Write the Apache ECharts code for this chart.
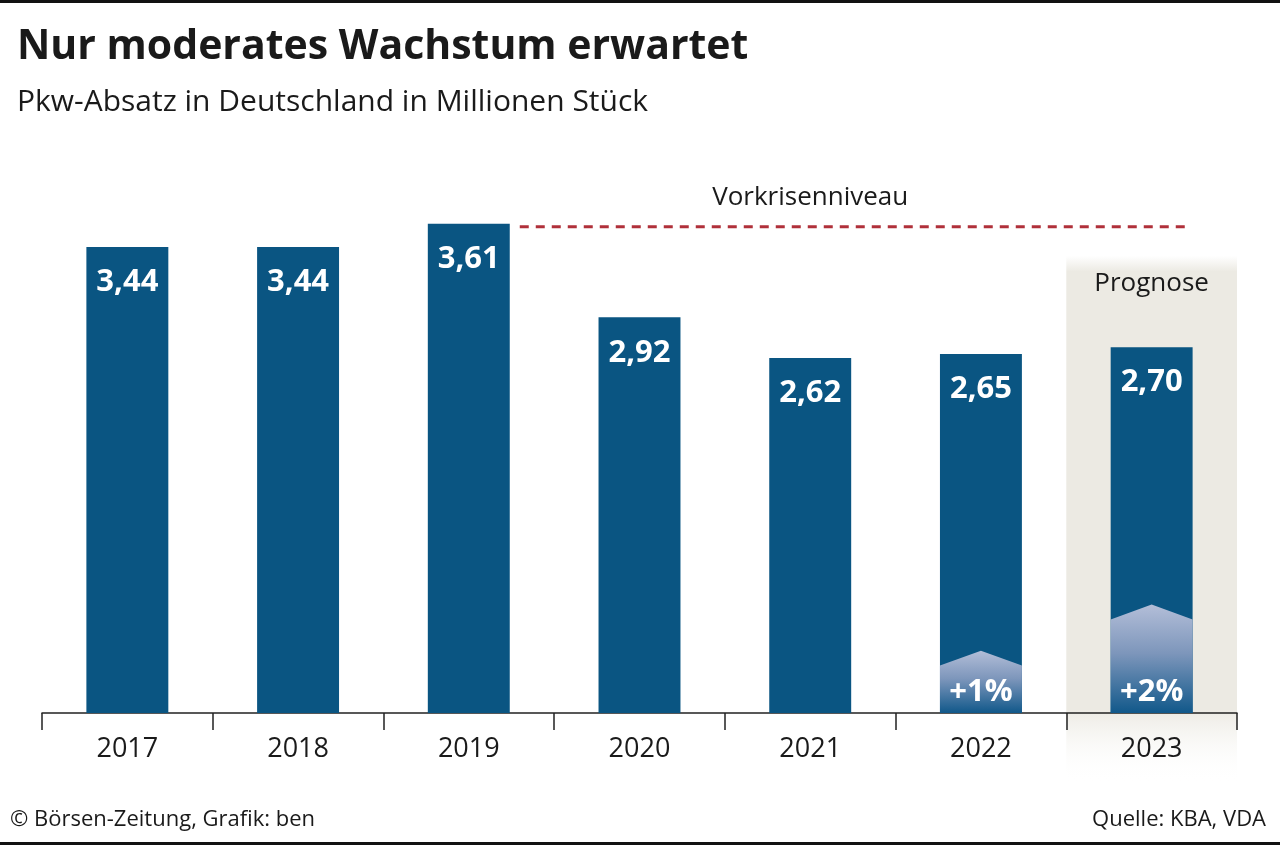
<!DOCTYPE html>
<html><head><meta charset="utf-8">
<script src="https://cdn.jsdelivr.net/npm/echarts@6/dist/echarts.min.js"></script>
<style>html,body{margin:0;padding:0;background:#fff}#c{width:1280px;height:845px}</style>
</head><body><div id="c"></div>
<script>
const categories = ['2017','2018','2019','2020','2021','2022','2023'];
const values = [3.44, 3.44, 3.61, 2.92, 2.62, 2.65, 2.70];
const valueLabels = ['3,44','3,44','3,61','2,92','2,62','2,65','2,70'];
// growth markers: [category index, shoulder height, peak height, label]
const growthIndex = [5, 6];
const growthShoulder = [0.35, 0.69];
const growthPeak = [0.46, 0.80];
const growthLabels = ['+1%', '+2%'];
const preCrisisIndex = 2;
const forecastIndex = 6;
const forecastShadeTop = 3.33;

const FONT = '"Open Sans", sans-serif';
const BLUE = '#0a5582';

const chart = echarts.init(document.getElementById('c'), null, {renderer:'canvas'});
const growthData = growthIndex.map((c, i) => [c, growthShoulder[i], growthPeak[i], growthLabels[i]]);

chart.setOption({
  animation: false,
  backgroundColor: '#fff',
  title: [
    {text: 'Nur moderates Wachstum erwartet', left: 12, top: 22,
     textStyle: {fontFamily: FONT, fontSize: 41, fontWeight: 'bold', color: '#1a1a1a'}},
    {text: 'Pkw-Absatz in Deutschland in Millionen Stück', left: 12, top: 82,
     textStyle: {fontFamily: FONT, fontSize: 30, fontWeight: 'normal', color: '#1a1a1a'}}
  ],
  grid: {left: 42, right: 43, top: 171, bottom: 132, containLabel: false},
  xAxis: {
    type: 'category', data: categories, boundaryGap: true,
    axisLine: {lineStyle: {color: '#222', width: 1.5}},
    axisTick: {show: true, length: 17, lineStyle: {color: '#222', width: 1.5}},
    axisLabel: {fontFamily: FONT, fontSize: 27, color: '#1a1a1a', margin: 23}
  },
  yAxis: {type: 'value', min: 0, max: 4, show: false, splitLine: {show: false}},
  series: [
    {
      type: 'bar', data: values, barWidth: '48%', z: 2,
      itemStyle: {color: BLUE},
      label: {show: true, position: 'insideTop', distance: 20,
        formatter: p => valueLabels[p.dataIndex],
        fontFamily: FONT, fontSize: 31, fontWeight: 'bold', color: '#fff'}
    },
    {
      type: 'custom', z: 3, data: growthData,
      encode: {x: 0, y: 2},
      renderItem: function (params, api) {
        const base = api.coord([api.value(0), 0]);
        const sh = api.coord([api.value(0), api.value(1)]);
        const pk = api.coord([api.value(0), api.value(2)]);
        const w = api.size([1, 0])[0] * 0.48;
        const x0 = base[0];
        return {
          type: 'group',
          children: [
            {type: 'polygon',
             shape: {points: [[x0 - w/2, base[1]], [x0 - w/2, sh[1]], [x0, pk[1]], [x0 + w/2, sh[1]], [x0 + w/2, base[1]]]},
             style: {fill: new echarts.graphic.LinearGradient(0, 0, 0, 1, [
               {offset: 0, color: '#b3bed8'}, {offset: 0.45, color: '#7d96bb'}, {offset: 1, color: '#11588a'}])}},
            {type: 'text', x: x0, y: base[1] - 21,
             style: {text: growthLabels[params.dataIndex], fill: '#fff', fontFamily: FONT,
               fontSize: 31, fontWeight: 'bold', align: 'center', verticalAlign: 'middle'}}
          ]
        };
      }
    }
  ]
});

function addGraphics() {
  const bandW = chart.convertToPixel({xAxisIndex: 0}, categories[1]) - chart.convertToPixel({xAxisIndex: 0}, categories[0]);
  const fx = chart.convertToPixel({xAxisIndex: 0}, categories[forecastIndex]);
  const shadeTop = chart.convertToPixel({yAxisIndex: 0}, forecastShadeTop);
  const baseY = chart.convertToPixel({yAxisIndex: 0}, 0);
  const px2019 = chart.convertToPixel({xAxisIndex: 0}, categories[preCrisisIndex]);
  const lineY = chart.convertToPixel({yAxisIndex: 0}, values[preCrisisIndex]) + 3;
  const midCat = chart.convertToPixel({xAxisIndex: 0}, categories[4]);
  const shadeH = baseY + 70 - (shadeTop - 6);
  chart.setOption({
    graphic: [
      {type: 'rect', z: -10, shape: {x: 0, y: 0, width: 1280, height: 3}, style: {fill: '#111'}},
      {type: 'rect', z: -10, shape: {x: 0, y: 842, width: 1280, height: 3}, style: {fill: '#111'}},
      {type: 'rect', z: -10, silent: true,
       shape: {x: fx - bandW/2, y: shadeTop - 6, width: bandW, height: shadeH},
       style: {fill: new echarts.graphic.LinearGradient(0, 0, 0, 1, [
         {offset: 0, color: 'rgba(236,234,227,0)'},
         {offset: 0.03, color: 'rgba(236,234,227,1)'},
         {offset: 0.86, color: 'rgba(236,234,227,1)'},
         {offset: 1, color: 'rgba(255,255,255,0)'}])}},
      {type: 'line', z: 5,
       shape: {x1: px2019 + bandW*0.24 + 10, y1: lineY, x2: fx + 40, y2: lineY},
       style: {stroke: '#b0303a', lineWidth: 3, lineDash: [9, 7]}},
      {type: 'text', z: 5, x: midCat, y: lineY - 29,
       style: {text: 'Vorkrisenniveau', fill: '#1a1a1a', fontFamily: FONT, fontSize: 26, align: 'center', verticalAlign: 'middle'}},
      {type: 'text', z: 5, x: fx, y: shadeTop + 22,
       style: {text: 'Prognose', fill: '#1a1a1a', fontFamily: FONT, fontSize: 26, align: 'center', verticalAlign: 'middle'}},
      {type: 'text', z: 5, x: 10, y: 820,
       style: {text: '© Börsen-Zeitung, Grafik: ben', fill: '#1a1a1a', fontFamily: FONT, fontSize: 22, align: 'left', verticalAlign: 'middle'}},
      {type: 'text', z: 5, x: 1266, y: 820,
       style: {text: 'Quelle: KBA, VDA', fill: '#1a1a1a', fontFamily: FONT, fontSize: 22, align: 'right', verticalAlign: 'middle'}}
    ]
  });
}
addGraphics();
</script>
</body></html>
